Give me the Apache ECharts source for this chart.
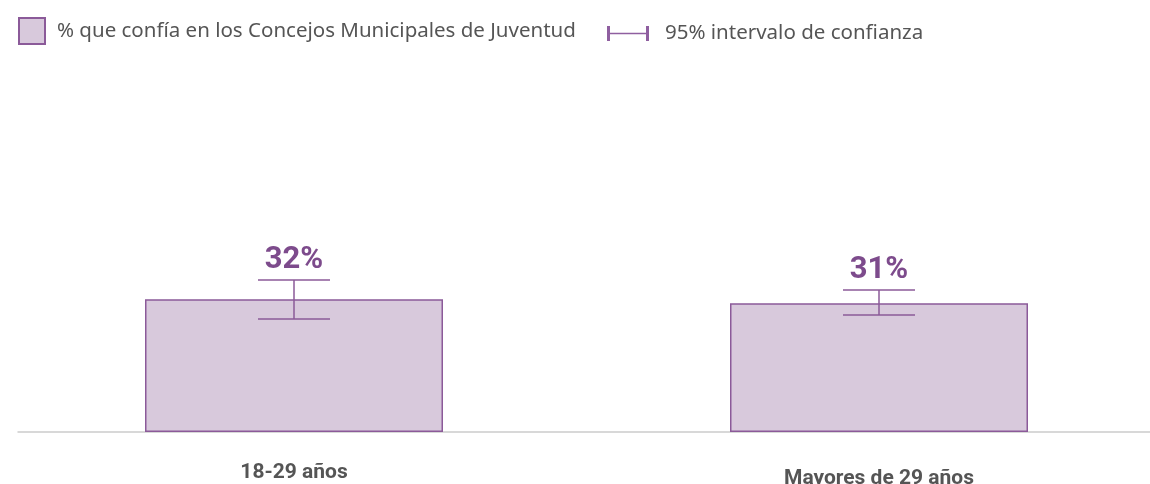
<!DOCTYPE html>
<html>
<head>
<meta charset="utf-8">
<script src="https://cdn.jsdelivr.net/npm/echarts@6/dist/echarts.min.js"></script>
<style>
  html, body { margin: 0; padding: 0; background: #fff; }
  #chart { width: 1150px; height: 484px; }
</style>
</head>
<body>
<div id="chart"></div>
<script>
var categories = ['18-29 años', 'Mayores de 29 años'];
var values = [32, 31];
var ciLow = [27.2, 28.2];
var ciHigh = [36.6, 34.2];

var purple = '#7d4b8c';
var barFill = '#d8c9dc';

var chart = echarts.init(document.getElementById('chart'));

var ciData = [];
for (var i = 0; i < categories.length; i++) {
    ciData.push([i, ciLow[i], ciHigh[i], values[i]]);
}

// second label sits a few px lower in the original
var catData = categories.map(function (c, i) {
    return i === 1 ? { value: c, textStyle: { padding: [6, 0, 0, 0] } } : c;
});

var option = {
    animation: false,
    legend: [
        {
            left: 18,
            top: 17,
            padding: 0,
            itemWidth: 26,
            itemHeight: 26,
            textStyle: { fontFamily: 'Noto Sans', fontSize: 20.5, color: '#555', padding: [0, 0, 0, 7] },
            data: [{ name: '% que confía en los Concejos Municipales de Juventud', icon: 'rect' }]
        },
        {
            left: 607,
            top: 23,
            padding: 0,
            itemWidth: 42,
            itemHeight: 15,
            textStyle: { fontFamily: 'Noto Sans', fontSize: 20.5, color: '#555', padding: [0, 0, 0, 11] },
            data: [{
                name: '95% intervalo de confianza',
                icon: 'path://M0,0h3v15h-3z M0,6.8h42v1.4h-42z M39,0h3v15h-3z',
                itemStyle: { color: '#8f5fa0', borderWidth: 0 }
            }]
        }
    ],
    grid: [
        { left: 1.5, width: 1170, top: 100, bottom: 52, outerBoundsMode: 'none' },
        { left: 18, right: 0, top: 100, bottom: 52, outerBoundsMode: 'none' }
    ],
    xAxis: [
        {
            type: 'category',
            gridIndex: 0,
            data: catData,
            axisLine: { show: false },
            axisTick: { show: false },
            axisLabel: {
                margin: 30,
                fontFamily: 'Roboto',
                fontWeight: 'bold',
                fontSize: 21,
                color: '#555'
            }
        },
        {
            type: 'category',
            gridIndex: 1,
            data: [''],
            axisLine: { show: true, lineStyle: { color: '#cccccc', width: 1.5 } },
            axisTick: { show: false },
            axisLabel: { show: false }
        }
    ],
    yAxis: [
        { type: 'value', gridIndex: 0, min: 0, max: 80, show: false },
        { type: 'value', gridIndex: 1, min: 0, max: 80, show: false }
    ],
    series: [
        {
            name: '% que confía en los Concejos Municipales de Juventud',
            type: 'bar',
            xAxisIndex: 0,
            yAxisIndex: 0,
            barWidth: 298,
            data: values,
            z: 2,
            itemStyle: {
                color: barFill,
                borderColor: '#8b5a99',
                borderWidth: 1.5
            }
        },
        {
            name: '95% intervalo de confianza',
            type: 'custom',
            xAxisIndex: 0,
            yAxisIndex: 0,
            data: ciData,
            z: 5,
            itemStyle: { color: '#8f5fa0' },
            renderItem: function (params, api) {
                var x = api.value(0);
                var lo = api.coord([x, api.value(1)]);
                var hi = api.coord([x, api.value(2)]);
                var half = 36;
                var style = { stroke: '#8b5a99', lineWidth: 1.5, fill: null };
                return {
                    type: 'group',
                    children: [
                        { type: 'line', shape: { x1: hi[0], y1: hi[1], x2: lo[0], y2: lo[1] }, style: style },
                        { type: 'line', shape: { x1: hi[0] - half, y1: hi[1], x2: hi[0] + half, y2: hi[1] }, style: style },
                        { type: 'line', shape: { x1: lo[0] - half, y1: lo[1], x2: lo[0] + half, y2: lo[1] }, style: style },
                        {
                            type: 'text',
                            x: hi[0],
                            y: hi[1] - 4,
                            style: {
                                text: api.value(3) + '%',
                                fill: purple,
                                font: 'bold 31px Roboto',
                                align: 'center',
                                verticalAlign: 'bottom'
                            }
                        }
                    ]
                };
            }
        }
    ]
};

chart.setOption(option);
</script>
</body>
</html>
